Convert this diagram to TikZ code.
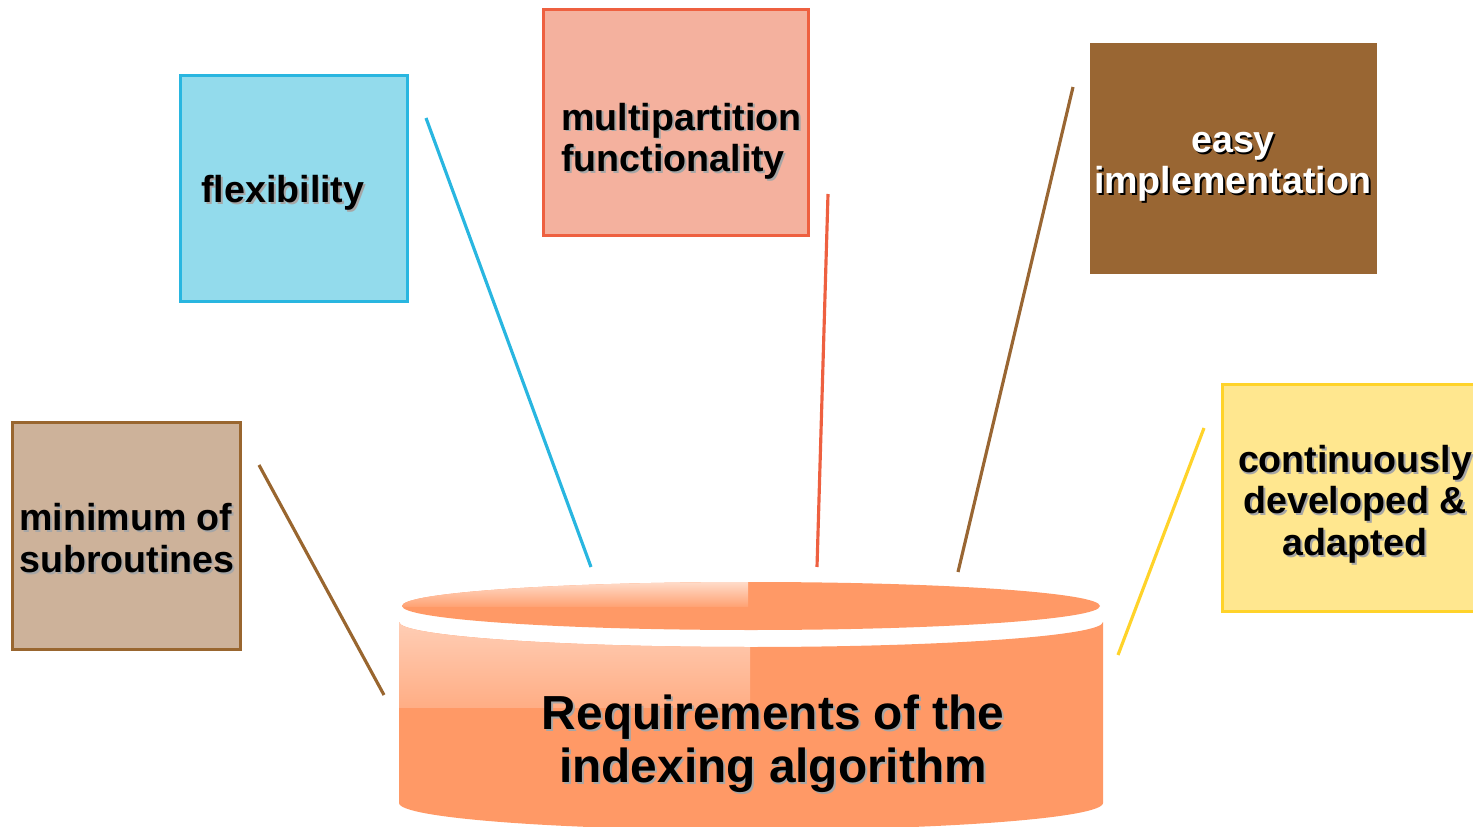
\documentclass[tikz,border=0pt]{standalone}
\usepackage{fontspec}
\setmainfont{Liberation Sans}
\usepackage{tikz}
\usetikzlibrary{calc}

\definecolor{cylorange}{HTML}{FF9966}
\definecolor{cylhigh}{HTML}{FFD6C2}
\definecolor{flexfill}{HTML}{93DBEC}
\definecolor{flexline}{HTML}{29B6E0}
\definecolor{multifill}{HTML}{F4B19E}
\definecolor{multiline}{HTML}{EE6040}
\definecolor{easyfill}{HTML}{996633}
\definecolor{minifill}{HTML}{CDB29A}
\definecolor{miniline}{HTML}{99662F}
\definecolor{contfill}{HTML}{FFE78F}
\definecolor{contline}{HTML}{FFD32A}

% text with a small drop shadow
\newcommand{\shd}[2][black!35]{\makebox[0pt][l]{\hspace{1.1pt}\raisebox{-1.1pt}{\textcolor{#1}{#2}}}#2}

\begin{document}
\begin{tikzpicture}[x=0.02cm, y=-0.02cm,
	reqbox/.style={draw, line width=1.7pt, inner sep=0pt},
	reqtext/.style={font=\fontsize{21.4}{23.6}\selectfont\bfseries, inner sep=0pt},
	spoke/.style={line width=1.8pt}]
			\useasboundingbox (0,0) rectangle (1473,827);

			% requirement boxes
			\node[reqbox, draw=flexline, fill=flexfill, minimum width=4.56cm, minimum height=4.54cm] (flex) at (294,188.5) {};
			\node[reqbox, draw=multiline, fill=multifill, minimum width=5.32cm, minimum height=4.54cm] (multi) at (676,122.5) {};
			\node[reqbox, draw=easyfill, line width=0.6pt, fill=easyfill, minimum width=5.72cm, minimum height=4.58cm] (easy) at (1233,158.5) {};
			\node[reqbox, draw=miniline, fill=minifill, minimum width=4.58cm, minimum height=4.56cm] (mini) at (126.5,536) {};
			\node[reqbox, draw=contline, fill=contfill, minimum width=5.32cm, minimum height=4.56cm] (cont) at (1355,498) {};

			\node[reqtext, anchor=west] (flextxt) at (201,194) {\shd{flexibility}};
			\node[reqtext, anchor=west, align=left] (multitxt) at (561,142) {\shd{multipartition}\\\shd{functionality}};
			\node[reqtext, text=white, align=center] (easytxt) at (1233,168) {\shd[black]{easy}\\\shd[black]{implementation}};
			\node[reqtext, anchor=west, align=left] (minitxt) at (19,539) {\shd{minimum of}\\\shd{subroutines}};
			\node[reqtext, align=center] (conttxt) at (1355,505) {\shd{continuously}\\\shd{developed \&}\\\shd{adapted}};

			% spokes
			\coordinate (flexA) at (426,118);   \coordinate (flexB) at (591,567);
			\coordinate (multiA) at (828,194);  \coordinate (multiB) at (817,567);
			\coordinate (easyA) at (1073,87);   \coordinate (easyB) at (958,572);
			\coordinate (miniA) at (259,465);   \coordinate (miniB) at (384,695);
			\coordinate (contA) at (1204,428);  \coordinate (contB) at (1118,655);

			\draw[spoke, flexline] (flexA)--(flexB);
			\draw[spoke, multiline] (multiA)--(multiB);
			\draw[spoke, easyfill] (easyA)--(easyB);
			\draw[spoke, miniline] (miniA)--(miniB);
			\draw[spoke, contline] (contA)--(contB);

			% cylinder
			\fill[cylorange] (399,622)--(399,803) arc[start angle=180, end angle=0, x radius=352, y radius=27]--(1103,622) arc[start angle=0, end angle=180, x radius=352, y radius=25]--cycle;
			\begin{scope}
				\clip (399,622)--(399,803)--(1103,803)--(1103,622) arc[start angle=0, end angle=180, x radius=352, y radius=25]--cycle;
				\shade[top color=cylhigh, bottom color=cylorange!80!white] (399,600) rectangle (750,707);
			\end{scope}
			\fill[cylorange] (751,606) ellipse[x radius=349, y radius=24];
			\begin{scope}
				\clip (751,606) ellipse[x radius=349, y radius=24];
				\shade[top color=white!65!cylorange, bottom color=cylorange!90!white] (402,582) rectangle (748,606);
			\end{scope}

			\node[inner sep=0pt, align=center, font=\fontsize{27.2}{30}\selectfont\bfseries] (req) at (773,745) {\shd{Requirements of the}\\\shd{indexing algorithm}};
		\end{tikzpicture}
\end{document}
